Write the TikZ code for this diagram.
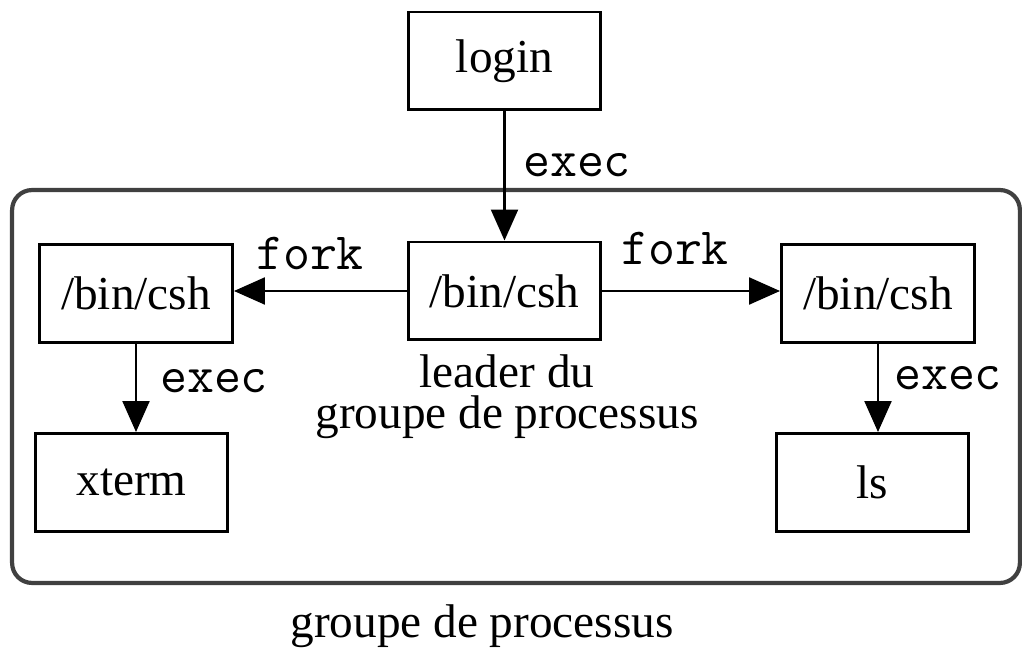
\documentclass[tikz,border=0pt]{standalone}
\usepackage{fontspec}
\setmainfont{Liberation Serif}
\usetikzlibrary{arrows.meta, positioning}
\definecolor{GroupGray}{RGB}{64,64,64}

\begin{document}
\begin{tikzpicture}[x=0.02cm, y=-0.02cm,
          proc/.style={rectangle, draw=black, line width=1.7pt, minimum width=3.86cm, minimum height=1.96cm, inner sep=0pt, font=\fontsize{26.9}{23.7}\selectfont},
          group/.style={rectangle, draw=GroupGray, line width=2.4pt, rounded corners=0.4cm, minimum width=20.16cm, minimum height=7.86cm, inner sep=0pt},
          call/.style={-{Triangle[length=0.62cm, width=0.54cm]}, line width=1.3pt},
          syscall/.style={anchor=base, inner sep=0pt, font=\ttfamily\fontsize{29.8}{34}\selectfont},
          caption/.style={inner sep=0pt, align=center, font=\fontsize{26.9}{23.7}\selectfont}
        ]
          \useasboundingbox (0,0) rectangle (1022,648);

          \node (groupe) [group] at (516,386.5) {};

          \node (login) [proc] at (504.5,61) {login};
          \node (leader) [proc] at (504.5,291) {/bin/csh};
          \node (cshl) [proc] at (136,293.5) {/bin/csh};
          \node (cshr) [proc] at (878,293.5) {/bin/csh};
          \node (xterm) [proc] at (131.5,482.5) {xterm};
          \node (ls) [proc] at (872.5,482.5) {ls};

          % appels systeme
          \draw[call] (login) -- (leader);
          \draw[call] (leader.west) -- (leader.west -| cshl.east);
          \draw[call] (leader.east) -- (leader.east -| cshr.west);
          \draw[call] (cshl.south) -- (cshl.south |- xterm.north);
          \draw[call] (cshr.south) -- (cshr.south |- ls.north);

          \node (e1) [syscall] at (577,177) {exec};
          \node (f1) [syscall] at (310,270) {fork};
          \node (f2) [syscall] at (675,265) {fork};
          \node (e2) [syscall] at (214,393) {exec};
          \node (e3) [syscall] at (948,390) {exec};

          \node (lead) [caption, anchor=north] at (507,354) {leader du\\groupe de processus};
          \node (gp) [caption, anchor=base] at (482,638) {groupe de processus};
        \end{tikzpicture}
\end{document}
